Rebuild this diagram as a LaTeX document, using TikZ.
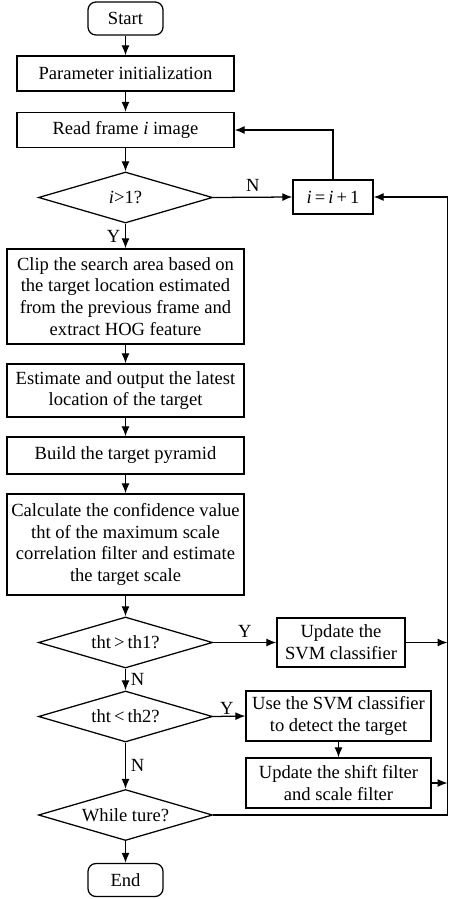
\documentclass[tikz,border=0pt]{standalone}
\usepackage{fontspec}
\setmainfont{Liberation Serif}
\usepackage{tikz}
\usetikzlibrary{arrows.meta,shapes.geometric}

\tikzset{
  proc/.style={draw, rectangle, align=center, inner sep=1pt},
  term/.style={draw, rectangle, rounded corners=0.2cm, minimum width=1.875cm, minimum height=0.825cm},
  decide/.style={draw, diamond, aspect=3.4, inner sep=0pt, minimum width=4.35cm, minimum height=1.275cm},
  arr/.style={-{Latex[length=2.5mm,width=2mm]}},
}

\begin{document}
\begin{tikzpicture}[x=0.025cm, y=-0.025cm, line width=0.9pt,
    every node/.style={font=\fontsize{13.2}{15.5}\selectfont}]
                \useasboundingbox (0,0) rectangle (449,899);
                \node [term] (start) at (125.5,18.5) {Start};
                \node [proc, minimum width=5.425cm, minimum height=0.875cm] (param) at (125.5,73.5) {Parameter initialization};
                \node [proc, minimum width=5.425cm, minimum height=0.875cm] (read) at (125.5,130) {Read frame \textit{i} image};
                \node [decide] (cond1) at (125.5,197.5) {\textit{i}>1?};
                \node [proc, minimum width=2cm, minimum height=0.85cm] (incr) at (333,197) {\textit{i}\,=\,\textit{i}\,+\,1};
                \node [proc, minimum width=5.925cm, minimum height=2.375cm] (clip) at (125.5,296.5) {Clip the search area based on\\the target location estimated\\from the previous frame and\\extract HOG feature};
                \node [proc, minimum width=5.925cm, minimum height=1.325cm] (est) at (125.5,390.5) {Estimate and output the latest\\location of the target};
                \node [proc, minimum width=5.925cm, minimum height=0.925cm] (build) at (125.5,455.5) {Build the target pyramid};
                \node [proc, minimum width=5.925cm, minimum height=2.525cm] (calc) at (125.5,544.5) {Calculate the confidence value\\tht of the maximum scale\\correlation filter and estimate\\the target scale};
                \node [decide] (cond2) at (125.5,642.5) {tht\,>\,th1?};
                \node [proc, minimum width=3.2cm, minimum height=1.225cm] (svm) at (341,642.5) {Update the\\SVM classifier};
                \node [decide] (cond3) at (125.5,716.5) {tht\,<\,th2?};
                \node [proc, minimum width=4.625cm, minimum height=1.25cm] (detect) at (338.5,716) {Use the SVM classifier\\to detect the target};
                \node [proc, minimum width=4.625cm, minimum height=1.25cm] (shift) at (338.5,783) {Update the shift filter\\and scale filter};
                \node [decide] (loop) at (125.5,815) {While ture?};
                \node [term] (stop) at (125.5,880) {End};
                % return line along the right edge
                \coordinate (rtop) at (447.5,197);
                \coordinate (rsvm) at (447.5,642.5);
                \coordinate (rshift) at (447.5,783);

                \draw [arr] (start) -- (param);
                \draw [arr] (param) -- (read);
                \draw [arr] (read) -- (cond1);
                \draw [arr] (cond1.east) -- node [above] {N} (incr.west);
                \draw [arr] (incr.north) |- (read.east);
                \draw [arr] (cond1.south) -- node [left, pos=0.5] {Y} (clip.north);
                \draw [arr] (clip) -- (est);
                \draw [arr] (est) -- (build);
                \draw [arr] (build) -- (calc);
                \draw [arr] (calc) -- (cond2);
                \draw [arr] (cond2.east) -- node [above] {Y} (svm.west);
                \draw [arr] (svm.east) -- (rsvm);
                \draw [arr] (cond2.south) -- node [right, pos=0.5] {N} (cond3.north);
                \draw [arr] (cond3.east) -- node [above left, pos=0.7, inner sep=1pt] {Y} (detect.west);
                \draw [arr] (detect) -- (shift);
                \draw [arr] (shift.east) -- (rshift);
                \draw [arr] (cond3.south) -- node [right] {N} (loop.north);
                \draw [arr] (loop.south) -- (stop.north);
                \draw [arr] (loop.east) -| (rtop) -- (incr.east);
            \end{tikzpicture}
\end{document}
